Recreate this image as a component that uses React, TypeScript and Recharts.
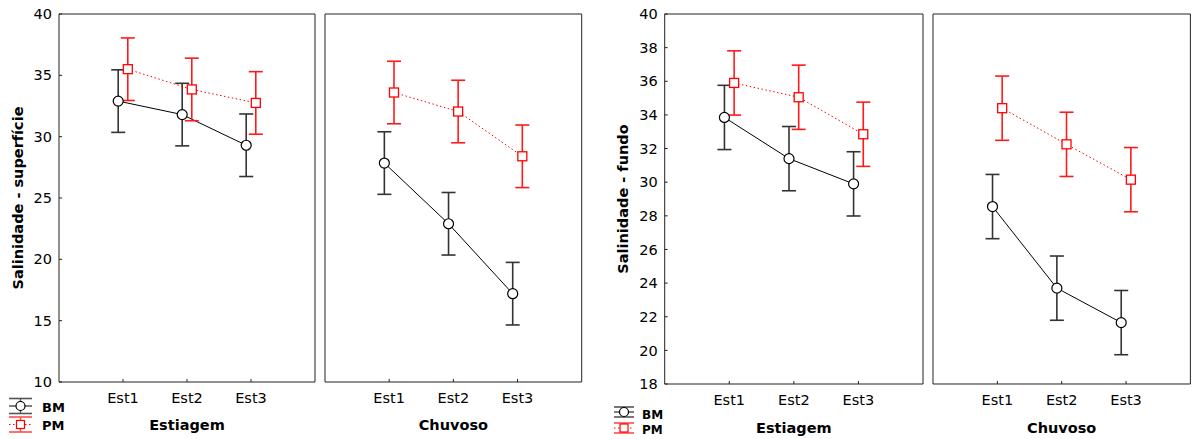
import React from 'react';
import { LineChart, Line, XAxis, YAxis, ErrorBar } from 'recharts';

// categorias e grupos
const estacoes = ['Est1', 'Est2', 'Est3'];
const grupos = ['BM', 'PM'];

// Salinidade - superfície (média ± IC)
const supEstiagemBM = [32.9, 31.8, 29.3];
const supEstiagemPM = [35.5, 33.85, 32.75];
const supChuvosoBM = [27.85, 22.9, 17.2];
const supChuvosoPM = [33.6, 32.05, 28.4];
const supErro = 2.55;
const supTicks = [10, 15, 20, 25, 30, 35, 40];
const supTicksDir = [14.29, 18.57, 22.86, 27.14, 31.43, 35.71];

// Salinidade - fundo
const fundoEstiagemBM = [33.85, 31.4, 29.9];
const fundoEstiagemPM = [35.9, 35.05, 32.85];
const fundoChuvosoBM = [28.55, 23.7, 21.65];
const fundoChuvosoPM = [34.4, 32.25, 30.15];
const fundoErro = 1.91;
const fundoTicks = [18, 20, 22, 24, 26, 28, 30, 32, 34, 36, 38, 40];
const fundoTicksDir = [19.83, 21.67, 23.5, 25.33, 27.17, 29, 30.83, 32.67, 34.5, 36.33, 38.17];

const H = 439;
const TOP = 14;
const FONT = '"DejaVu Sans", Verdana, sans-serif';
const AXIS = '#222';
const SHIFT = 0.075;

type PanelProps = {
  plotLeft: number;
  plotW: number;
  plotH: number;
  leftW: number;
  rightW: number;
  domain: [number, number];
  leftTicks: number[];
  rightTicks: number[];
  labels: boolean;
  yLabel?: string;
  yLabelOffset?: number;
  title: string;
  titleOffset: number;
  bm: number[];
  pm: number[];
  err: number;
};

const PmDot = (props: any) => {
  const { cx, cy, index } = props;
  if (cx == null || cy == null) return <g key={`pm-${index}`} />;
  return (
    <rect key={`pm-${index}`} x={cx - 4.5} y={cy - 4.5} width={9} height={9}
      fill="#fff" stroke="#ff0000" strokeWidth={1.3} />
  );
};

function Panel(p: PanelProps) {
  const bottomH = H - TOP - p.plotH;
  const width = p.leftW + p.plotW + p.rightW;
  const bmData = p.bm.map((y, i) => ({ x: i + 1 - SHIFT, y, err: p.err }));
  const pmData = p.pm.map((y, i) => ({ x: i + 1 + SHIFT, y, err: p.err }));
  const tickStyle = { fill: '#000', fontSize: 14.5, fontFamily: FONT };

  return (
    <div style={{ position: 'absolute', left: p.plotLeft - p.leftW, top: 0 }}>
      <LineChart width={width} height={H} margin={{ top: 0, right: 0, bottom: 0, left: 0 }}>
        <XAxis
          type="number"
          dataKey="x"
          domain={[0, 4]}
          ticks={[1, 2, 3]}
          tickFormatter={(v: number) => estacoes[v - 1]}
          height={bottomH}
          stroke={AXIS}
          tickSize={-3}
          tickMargin={14}
          tick={tickStyle}
          label={{
            value: p.title,
            position: 'insideBottom',
            offset: p.titleOffset,
            style: { fontWeight: 'bold', fontSize: 14.5, fill: '#000', fontFamily: FONT },
          }}
        />
        <XAxis
          xAxisId="top"
          orientation="top"
          type="number"
          dataKey="x"
          domain={[0, 4]}
          ticks={[1, 2, 3]}
          height={TOP}
          stroke={AXIS}
          tickSize={-3}
          tick={false}
        />
        <YAxis
          type="number"
          domain={p.domain}
          ticks={p.leftTicks}
          interval={0}
          width={p.leftW}
          stroke={AXIS}
          tickSize={-3}
          tickMargin={10}
          tick={p.labels ? tickStyle : false}
          label={
            p.yLabel
              ? {
                  value: p.yLabel,
                  angle: -90,
                  position: 'insideLeft',
                  offset: p.yLabelOffset,
                  style: { textAnchor: 'middle', fontWeight: 'bold', fontSize: 14.5, fill: '#000', fontFamily: FONT },
                }
              : undefined
          }
        />
        <YAxis
          yAxisId="r"
          orientation="right"
          type="number"
          domain={p.domain}
          ticks={p.rightTicks}
          interval={0}
          width={p.rightW}
          stroke={AXIS}
          tickSize={-3}
          tick={false}
        />
        <Line
          data={bmData}
          dataKey="y"
          stroke="#000"
          strokeWidth={1}
          dot={{ r: 5, fill: '#fff', stroke: '#000', strokeWidth: 1.2 }}
          isAnimationActive={false}
        >
          <ErrorBar dataKey="err" direction="y" width={7} stroke="#333" strokeWidth={1.6} />
        </Line>
        <Line
          data={pmData}
          dataKey="y"
          stroke="#ff0000"
          strokeWidth={1}
          strokeDasharray="1.5 2.5"
          dot={PmDot}
          isAnimationActive={false}
        >
          <ErrorBar dataKey="err" direction="y" width={7} stroke="#ff1a1a" strokeWidth={1.6} />
        </Line>
      </LineChart>
    </div>
  );
}

type LegendProps = { x0: number; x1: number; rows: number[]; capHalf: number; textX: number; base: number[]; fontSize: number };

function Legenda({ x0, x1, rows, capHalf, textX, base, fontSize }: LegendProps) {
  const cx = (x0 + x1) / 2;
  return (
    <>
      {grupos.map((g, i) => {
        const cy = rows[i];
        const isBM = i === 0;
        const cor = isBM ? '#000' : '#ff0000';
        const capCor = isBM ? '#555' : '#ff4d4d';
        return (
          <g key={g}>
            <line x1={x0} x2={x1} y1={cy - capHalf} y2={cy - capHalf} stroke={capCor} strokeWidth={1.6} />
            <line x1={x0} x2={x1} y1={cy + capHalf} y2={cy + capHalf} stroke={capCor} strokeWidth={1.6} />
            <line x1={cx} x2={cx} y1={cy - capHalf} y2={cy + capHalf} stroke={capCor} strokeWidth={1.4} />
            <line x1={x0} x2={x1} y1={cy} y2={cy} stroke={cor} strokeWidth={1} strokeDasharray={isBM ? undefined : '1.5 2.5'} />
            {isBM ? (
              <circle cx={cx} cy={cy} r={4.5} fill="#fff" stroke="#000" strokeWidth={1.2} />
            ) : (
              <rect x={cx - 4} y={cy - 4} width={8} height={8} fill="#fff" stroke="#ff0000" strokeWidth={1.2} />
            )}
            <text x={textX} y={base[i]} fontFamily={FONT} fontWeight="bold" fontSize={fontSize} fill="#000">
              {g}
            </text>
          </g>
        );
      })}
    </>
  );
}

export default function App() {
  return (
    <div style={{ position: 'absolute', left: 0, top: 0, width: 1195, height: H, background: '#fff', overflow: 'hidden' }}>
      <Panel
        plotLeft={59} plotW={256} plotH={368} leftW={59} rightW={10}
        domain={[10, 40]} leftTicks={supTicks} rightTicks={supTicksDir} labels
        yLabel="Salinidade - superfície" yLabelOffset={18}
        title="Estiagem" titleOffset={9}
        bm={supEstiagemBM} pm={supEstiagemPM} err={supErro}
      />
      <Panel
        plotLeft={325.3} plotW={256.7} plotH={368} leftW={10} rightW={10}
        domain={[10, 40]} leftTicks={supTicks} rightTicks={supTicksDir} labels={false}
        title="Chuvoso" titleOffset={9}
        bm={supChuvosoBM} pm={supChuvosoPM} err={supErro}
      />
      <Panel
        plotLeft={664.7} plotW={258.3} plotH={370} leftW={64.7} rightW={10}
        domain={[18, 40]} leftTicks={fundoTicks} rightTicks={fundoTicksDir} labels
        yLabel="Salinidade - fundo" yLabelOffset={23}
        title="Estiagem" titleOffset={6}
        bm={fundoEstiagemBM} pm={fundoEstiagemPM} err={fundoErro}
      />
      <Panel
        plotLeft={933.3} plotW={257.4} plotH={370} leftW={10} rightW={4}
        domain={[18, 40]} leftTicks={fundoTicks} rightTicks={fundoTicksDir} labels={false}
        title="Chuvoso" titleOffset={6}
        bm={fundoChuvosoBM} pm={fundoChuvosoPM} err={fundoErro}
      />
      <svg width={1195} height={H} style={{ position: 'absolute', left: 0, top: 0, pointerEvents: 'none' }}>
        <Legenda x0={9} x1={32} rows={[406, 424.5]} capHalf={7.5} textX={42} base={[411.7, 429.5]} fontSize={13} />
        <Legenda x0={614} x1={634} rows={[412, 428]} capHalf={5} textX={642} base={[419, 433.5]} fontSize={12} />
      </svg>
    </div>
  );
}
